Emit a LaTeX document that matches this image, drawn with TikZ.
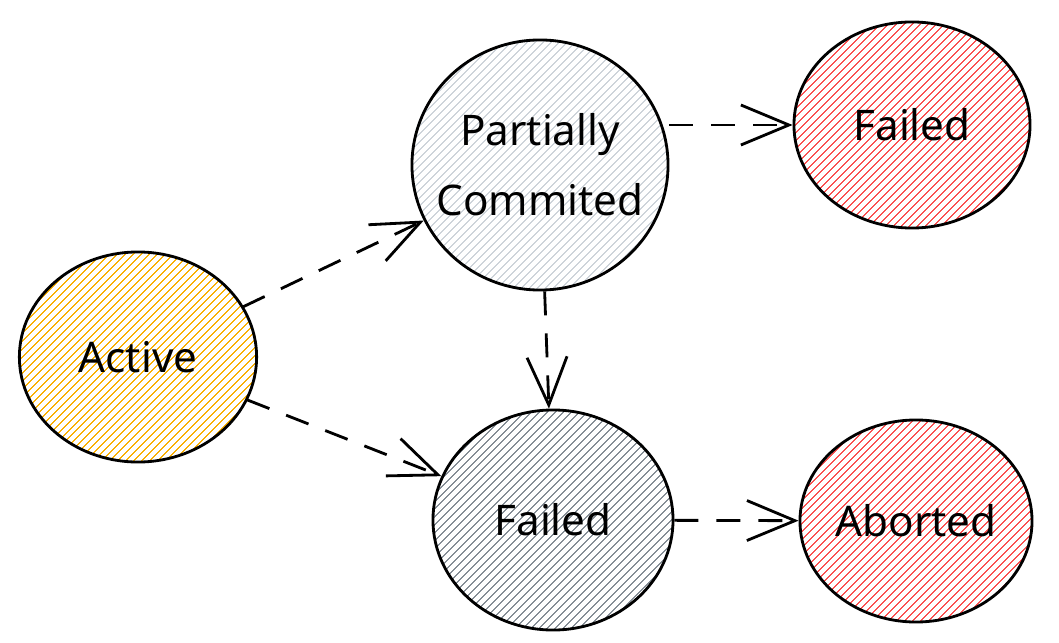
\documentclass[tikz,border=0pt]{standalone}
\usepackage{fontspec}
\setmainfont{Noto Sans}
\usetikzlibrary{arrows.meta,shapes.geometric,patterns.meta}
\definecolor{actyellow}{HTML}{FAB005}
\definecolor{lightgray}{HTML}{CED4DA}
\definecolor{midgray}{HTML}{868E96}
\definecolor{failred}{HTML}{FA5252}
\begin{document}
\begin{tikzpicture}[x=0.025cm, y=-0.025cm,
    state/.style={ellipse, draw, line width=2pt, inner sep=0pt, align=center, font=\fontsize{30}{50}\selectfont},
    hatch/.style={pattern={Lines[angle=45,distance=4pt,line width=0.9pt]}, pattern color=#1},
    arr/.style={-{Straight Barb[length=12mm,width=10mm,line width=2pt]}, line width=2pt, dash pattern=on 6mm off 4.5mm}
]
\useasboundingbox (0,0) rectangle (1059,643);
\node[state, hatch=actyellow, minimum width=5.93cm, minimum height=5.25cm] (act) at (138,357) {Active};
\node[state, hatch=lightgray, inner sep=-10pt, minimum width=6.4cm, minimum height=6.25cm] (pc) at (540,165) {Partially\\Commited};
\node[state, hatch=failred, minimum width=5.9cm, minimum height=5.15cm] (ftop) at (912,125) {Failed};
\node[state, hatch=midgray, minimum width=6cm, minimum height=5.5cm] (fail) at (553,520) {Failed};
\node[state, hatch=failred, minimum width=5.8cm, minimum height=5.05cm] (abort) at (916,521) {Aborted};

\draw[arr] (act) -- (pc);
\draw[arr] (act) -- (fail);
\draw[arr] (pc) -- (fail);
\draw[arr] (pc.east |- ftop.west) -- (ftop.west);
\draw[arr] (fail) -- (abort);
\end{tikzpicture}
\end{document}
